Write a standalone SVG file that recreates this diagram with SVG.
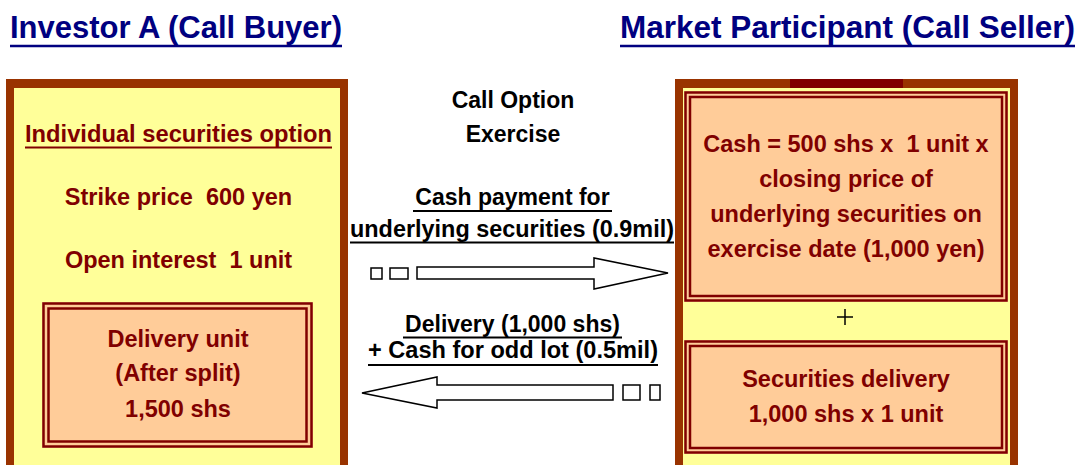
<svg xmlns="http://www.w3.org/2000/svg" width="1078" height="465" viewBox="0 0 1078 465">
  <style>
    text { font-family: "Liberation Sans", Arial, sans-serif; font-weight: bold; }
    .title { font-size: 31px; fill: #000080; }
    .red { font-size: 23.5px; fill: #800000; text-anchor: middle; }
    .blk { font-size: 23px; fill: #000000; text-anchor: middle; }
    .frame { fill: #993300; }
    .panel { fill: #FFFF99; }
    .peach { fill: #FFCC99; }
    .line2 { fill: none; stroke: #800000; stroke-width: 2.5; }
    .uline-navy { stroke: #000080; stroke-width: 2.5; }
    .uline-red { stroke: #800000; stroke-width: 2; }
    .uline-blk { stroke: #000000; stroke-width: 2; }
    .arrow { fill: #FFFFFF; stroke: #000000; stroke-width: 1.5; stroke-linejoin: miter; }
  </style>

  <rect width="1078" height="465" fill="#FFFFFF"/>

  <!-- headings -->
  <g id="heading-buyer">
    <text class="title" x="10" y="38" textLength="332" lengthAdjust="spacingAndGlyphs">Investor A (Call Buyer)</text>
    <line class="uline-navy" x1="10" y1="46" x2="342" y2="46"/>
  </g>
  <g id="heading-seller">
    <text class="title" x="620" y="38" textLength="455" lengthAdjust="spacingAndGlyphs">Market Participant (Call Seller)</text>
    <line class="uline-navy" x1="620" y1="46" x2="1075" y2="46"/>
  </g>

  <!-- buyer panel -->
  <g id="buyer">
    <rect class="frame" x="6" y="79" width="342" height="400"/>
    <rect class="panel" x="14" y="88" width="326" height="390"/>
    <text class="red" x="178.5" y="142" textLength="307" lengthAdjust="spacingAndGlyphs">Individual securities option</text>
    <line class="uline-red" x1="25" y1="147.5" x2="332" y2="147.5"/>
    <text class="red" x="178.5" y="205" xml:space="preserve">Strike price  600 yen</text>
    <text class="red" x="178.5" y="268" xml:space="preserve">Open interest  1 unit</text>
  </g>

  <g id="delivery-unit">
    <rect class="peach" x="42" y="302" width="271" height="146"/>
    <rect class="line2" x="43.5" y="303.5" width="268" height="143"/>
    <rect class="line2" x="48.5" y="308.5" width="258" height="133"/>
    <text class="red" x="178" y="347">Delivery unit</text>
    <text class="red" x="178" y="381">(After split)</text>
    <text class="red" x="178" y="417">1,500 shs</text>
  </g>

  <!-- seller panel -->
  <g id="seller">
    <rect class="frame" x="675" y="79" width="343" height="400"/>
    <rect x="790" y="79" width="113" height="9" fill="#800000"/>
    <rect class="panel" x="683" y="88" width="327" height="390"/>
    <line x1="837" y1="317" x2="853" y2="317" stroke="#000000" stroke-width="1.5"/>
    <line x1="845" y1="309" x2="845" y2="325" stroke="#000000" stroke-width="1.5"/>
  </g>

  <g id="cash-settlement">
    <rect class="peach" x="684" y="91" width="324" height="211"/>
    <rect class="line2" x="685.5" y="92.5" width="321" height="208"/>
    <rect class="line2" x="690" y="97" width="312" height="199"/>
    <text class="red" x="846" y="152" xml:space="preserve">Cash = 500 shs x  1 unit x</text>
    <text class="red" x="846" y="187">closing price of</text>
    <text class="red" x="846" y="222">underlying securities on</text>
    <text class="red" x="846" y="257">exercise date (1,000 yen)</text>
  </g>

  <g id="securities-delivery">
    <rect class="peach" x="684" y="340" width="324" height="114"/>
    <rect class="line2" x="685.5" y="341.5" width="321" height="111"/>
    <rect class="line2" x="690" y="346" width="312" height="102"/>
    <text class="red" x="846" y="387">Securities delivery</text>
    <text class="red" x="846" y="422">1,000 shs x 1 unit</text>
  </g>

  <!-- exercise caption -->
  <g id="exercise">
    <text class="blk" x="513" y="108">Call Option</text>
    <text class="blk" x="513" y="142">Exercise</text>
  </g>

  <!-- flows between the parties -->
  <g id="connectors">
    <g id="cash-payment">
      <text class="blk" x="512.5" y="205">Cash payment for</text>
      <line class="uline-blk" x1="413" y1="211" x2="612" y2="211"/>
      <text class="blk" x="512" y="237" textLength="324" lengthAdjust="spacingAndGlyphs">underlying securities (0.9mil)</text>
      <line class="uline-blk" x1="350" y1="242.5" x2="674" y2="242.5"/>
      <rect class="arrow" x="371" y="268" width="11" height="11"/>
      <rect class="arrow" x="390" y="268" width="18" height="11"/>
      <polygon class="arrow" points="417,267 594,267 594,258 668,273 594,289 594,279 417,279"/>
    </g>
    <g id="delivery-flow">
      <text class="blk" x="512.5" y="332">Delivery (1,000 shs)</text>
      <line class="uline-blk" x1="403" y1="337.5" x2="622" y2="337.5"/>
      <text class="blk" x="513" y="358" textLength="290" lengthAdjust="spacingAndGlyphs">+ Cash for odd lot (0.5mil)</text>
      <line class="uline-blk" x1="368" y1="365" x2="658" y2="365"/>
      <polygon class="arrow" points="613,385 437,385 437,377 362,393 437,408 437,400 613,400"/>
      <rect class="arrow" x="623" y="385" width="17" height="15"/>
      <rect class="arrow" x="650" y="385" width="10" height="15"/>
    </g>
  </g>
</svg>
